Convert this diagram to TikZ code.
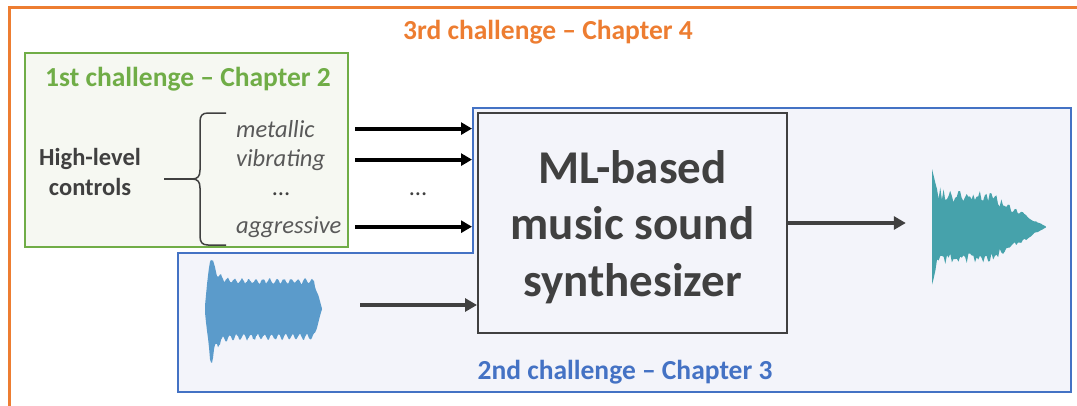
\documentclass[tikz,border=0pt]{standalone}
\usepackage{fontspec}
\setmainfont{Carlito}
\usetikzlibrary{arrows.meta}

\definecolor{orangeC}{HTML}{ED7D31}
\definecolor{greenC}{HTML}{70AD47}
\definecolor{blueC}{HTML}{4472C4}
\definecolor{blueFill}{HTML}{F3F4FA}
\definecolor{greenFill}{HTML}{F6F8F2}
\definecolor{inkC}{HTML}{404040}
\definecolor{itemC}{HTML}{595959}
\definecolor{waveBlue}{HTML}{5B9BCB}
\definecolor{waveTeal}{HTML}{46A2AB}

\begin{document}
\begin{tikzpicture}[x=1pt,y=-1pt,
  frameorange/.style={draw=orangeC, line width=3pt},
  frameblue/.style={draw=blueC, fill=blueFill, line width=2.8pt},
  framegreen/.style={draw=greenC, fill=greenFill, line width=2.6pt},
  heading/.style={font=\fontsize{27.5}{33}\selectfont\bfseries, anchor=base, inner sep=0pt},
  ctrlitem/.style={font=\fontsize{24.5}{29}\selectfont\itshape, text=itemC, anchor=base west, inner sep=0pt},
  dotsitem/.style={font=\fontsize{24.5}{29}\selectfont, text=inkC, anchor=base, inner sep=0pt},
  groupname/.style={font=\fontsize{24.5}{30}\selectfont\bfseries, text=inkC, align=center, inner sep=0pt},
  synthbox/.style={draw=inkC, line width=2pt, fill=blueFill, minimum width=309pt,
    minimum height=220pt, inner sep=0pt},
  synthtext/.style={align=center, text=inkC, inner sep=0pt,
    font=\fontsize{47}{56.5}\selectfont\bfseries},
  wavebox/.style={inner sep=0pt, minimum width=#1pt, minimum height=#1pt},
  bracestyle/.style={draw=inkC, line width=1.5pt, line join=round},
  ctrlarrow/.style={draw=black, line width=4pt, -{Triangle[length=11pt,width=12pt]}, shorten >=5pt},
  grayarrow/.style={draw=inkC, line width=4pt, -{Triangle[length=12pt,width=13pt]}},
  declare function={
    envin(\t)=(\t<0.045) ? (3+50*\t/0.045) : ((\t<0.93) ? (27+26*exp(-(\t-0.045)/0.05)) : (27*(1-\t)/0.07+0.5));
    envout(\t)=(\t<0.5) ? (36+22*exp(-\t/0.04)) : (36*(1-\t)/0.5+0.5);
  }]

\useasboundingbox (0,0) rectangle (1077,405);

% outer frame: third challenge (runs off the right and bottom edges)
\begin{scope}
  \clip (0,0) rectangle (1077,405);
  \draw[frameorange] (1090,7) -- (9,7) -- (9,420);
\end{scope}

% second challenge region
\draw[frameblue] (473,108) -- (1071,108) -- (1071,392) -- (178,392) -- (178,253) -- (473,253) -- cycle;

% first challenge region
\draw[framegreen] (25,53) rectangle (348,247);

% headings
\node[heading, text=orangeC] (h3) at (548,39) {3rd challenge – Chapter 4};
\node[heading, text=greenC] (h1) at (188,86) {1st challenge – Chapter 2};
\node[heading, text=blueC] (h2) at (625,379) {2nd challenge – Chapter 3};

% high-level controls
\node[groupname] (hlc) at (90,171.5) {High-level\\controls};
\draw[bracestyle] (226,113) -- (208,113) .. controls (202,113) and (200,116) .. (200,122)
  -- (200,170) .. controls (200,176) and (198,179) .. (192,179)
  .. controls (198,179) and (200,182) .. (200,188)
  -- (200,236) .. controls (200,242) and (202,245) .. (208,245) -- (226,245);
\draw[bracestyle] (192,179) -- (164,179);

\node[ctrlitem] (m1) at (236,137) {metallic};
\node[ctrlitem] (m2) at (236,166) {vibrating};
\node[dotsitem] (m3) at (281,195) {…};
\node[ctrlitem] (m4) at (236,233) {aggressive};

% synthesizer
\node[synthbox] (synth) at (632.5,223) {};
\node[synthtext, yshift=-4pt] (synthlabel) at (synth.center) {ML-based\\music sound\\synthesizer};

% control arrows
\coordinate (ctrlx) at (355,0);
\draw[ctrlarrow] (m1.center -| ctrlx) -- (m1.center -| synth.west);
\draw[ctrlarrow] (m2.center -| ctrlx) -- (m2.center -| synth.west);
\draw[ctrlarrow] (m4.center -| ctrlx) -- (m4.center -| synth.west);
\node[dotsitem] (mdots) at (418,195) {…};

% input sound
\pgfmathsetseed{11}
\node[wavebox=110] (wavein) at (263.5,309) {};
\fill[waveBlue]
  plot[variable=\t, domain=0:1, samples=118]
    ({205+117*\t},{309-envin(\t)-(envin(\t)/27)*(2.2*sin(\t*6000)+1.8*rnd)})
  -- plot[variable=\t, domain=1:0, samples=118]
    ({205+117*\t},{309+envin(\t)+(envin(\t)/27)*(2.8*sin(\t*6000+90)+1.8*rnd)})
  -- cycle;
\coordinate (inx) at (360,305);
\draw[grayarrow] (inx) -- (inx -| synth.west);

% output sound
\node[wavebox=114] (waveout) at (989,227) {};
\fill[waveTeal]
  plot[variable=\t, domain=0:1, samples=70]
    ({932+114*\t},{227-envout(\t)*(1-0.32*rnd*(\t>0.02))})
  -- plot[variable=\t, domain=1:0, samples=70]
    ({932+114*\t},{227+envout(\t)*(1-0.28*rnd*(\t>0.02))})
  -- cycle;
\draw[grayarrow, shorten >=26pt] (synth.east) -- (synth.east -| waveout.west);

\end{tikzpicture}
\end{document}
